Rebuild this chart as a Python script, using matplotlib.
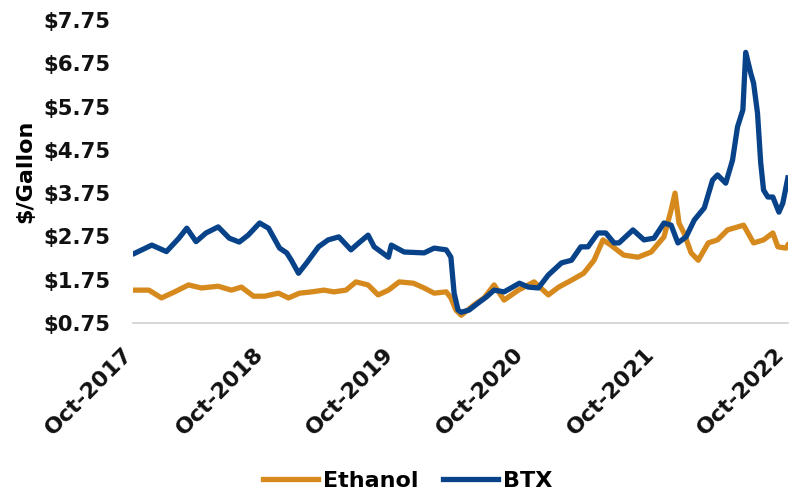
import pandas as pd
import matplotlib
matplotlib.use("Agg")
import matplotlib.pyplot as plt
import matplotlib.dates as mdates
import matplotlib.transforms as mtransforms
from matplotlib.ticker import FixedLocator, FuncFormatter

# Datas e valores ($/galão)
btx_datas = [
    "2017-10-01", "2017-11-18", "2017-12-29", "2018-02-02", "2018-02-24", "2018-03-22",
    "2018-04-19", "2018-05-23", "2018-06-23", "2018-07-21", "2018-08-15", "2018-09-16",
    "2018-10-11", "2018-11-11", "2018-12-01", "2018-12-14", "2019-01-03", "2019-01-26",
    "2019-02-28", "2019-03-27", "2019-04-26", "2019-05-30", "2019-06-21", "2019-07-17",
    "2019-08-03", "2019-09-12", "2019-09-20", "2019-10-26", "2019-12-21", "2020-01-18",
    "2020-02-21", "2020-03-05", "2020-03-14", "2020-03-25", "2020-04-03", "2020-04-25",
    "2020-05-20", "2020-06-12", "2020-07-04", "2020-08-01", "2020-09-13", "2020-10-08",
    "2020-11-05", "2020-12-03", "2021-01-09", "2021-02-06", "2021-03-04", "2021-03-24",
    "2021-04-21", "2021-05-13", "2021-06-05", "2021-06-19", "2021-07-28", "2021-08-28",
    "2021-09-25", "2021-10-23", "2021-11-12", "2021-12-01", "2021-12-24", "2022-01-16",
    "2022-02-13", "2022-03-08", "2022-03-22", "2022-04-14", "2022-05-03", "2022-05-17",
    "2022-06-01", "2022-06-09", "2022-06-23", "2022-07-01", "2022-07-12", "2022-07-21",
    "2022-07-29", "2022-08-10", "2022-08-24", "2022-09-10", "2022-09-21", "2022-10-05",
]
btx_valores = [
    2.36, 2.55, 2.40, 2.71, 2.94, 2.63,
    2.83, 2.97, 2.71, 2.62, 2.78, 3.06,
    2.94, 2.48, 2.37, 2.20, 1.90, 2.14,
    2.51, 2.67, 2.74, 2.44, 2.60, 2.78,
    2.51, 2.27, 2.55, 2.39, 2.37, 2.48,
    2.44, 2.27, 1.44, 1.05, 1.00, 1.05,
    1.21, 1.35, 1.51, 1.47, 1.67, 1.58,
    1.56, 1.86, 2.14, 2.20, 2.51, 2.51,
    2.83, 2.83, 2.60, 2.60, 2.90, 2.67,
    2.71, 3.06, 3.01, 2.60, 2.74, 3.13,
    3.41, 4.05, 4.17, 3.98, 4.51, 5.28,
    5.67, 7.00, 6.52, 6.29, 5.60, 4.45,
    3.82, 3.66, 3.66, 3.31, 3.52, 4.10,
]

etanol_datas = [
    "2017-10-01", "2017-11-10", "2017-12-15", "2018-01-21", "2018-03-01", "2018-04-06",
    "2018-05-23", "2018-06-29", "2018-07-27", "2018-08-30", "2018-09-30", "2018-11-08",
    "2018-12-06", "2019-01-06", "2019-02-09", "2019-03-15", "2019-04-12", "2019-05-16",
    "2019-06-13", "2019-07-17", "2019-08-14", "2019-09-12", "2019-10-12", "2019-11-21",
    "2019-12-21", "2020-01-18", "2020-02-21", "2020-03-05", "2020-03-19", "2020-04-03",
    "2020-05-09", "2020-06-06", "2020-07-04", "2020-08-01", "2020-09-10", "2020-10-24",
    "2020-12-03", "2021-01-01", "2021-02-06", "2021-03-12", "2021-04-10", "2021-05-05",
    "2021-05-27", "2021-07-02", "2021-08-11", "2021-09-17", "2021-10-23", "2021-11-12",
    "2021-11-23", "2021-12-04", "2021-12-18", "2022-01-07", "2022-01-27", "2022-02-24",
    "2022-03-22", "2022-04-19", "2022-06-03", "2022-07-01", "2022-07-29", "2022-08-24",
    "2022-09-07", "2022-09-30", "2022-10-05",
]
etanol_valores = [
    1.51, 1.51, 1.33, 1.47, 1.63, 1.56,
    1.60, 1.51, 1.58, 1.37, 1.37, 1.44,
    1.33, 1.44, 1.47, 1.51, 1.47, 1.51,
    1.70, 1.63, 1.40, 1.51, 1.70, 1.67,
    1.56, 1.44, 1.47, 1.33, 1.05, 0.93,
    1.17, 1.33, 1.63, 1.28, 1.51, 1.70,
    1.40, 1.58, 1.74, 1.90, 2.20, 2.67,
    2.55, 2.32, 2.27, 2.39, 2.74, 3.36,
    3.75, 3.06, 2.83, 2.37, 2.20, 2.60,
    2.67, 2.90, 3.01, 2.60, 2.67, 2.83,
    2.51, 2.48, 2.55,
]

anos_ticks = ["2017-10-01", "2018-10-01", "2019-10-01", "2020-10-01", "2021-10-01", "2022-10-01"]
y_ticks = [0.75, 1.75, 2.75, 3.75, 4.75, 5.75, 6.75, 7.75]

cor_etanol = "#D68A1E"
cor_btx = "#08438A"

plt.rcParams['font.family'] = ['DejaVu Sans']
plt.rcParams['font.weight'] = 'bold'

fig = plt.figure(figsize=(7.91, 4.97), dpi=100)
ax = fig.add_axes([0.168, 0.35, 0.828, 0.61])

ax.plot(pd.to_datetime(etanol_datas), etanol_valores, color=cor_etanol, lw=3.8, label="Ethanol")
ax.plot(pd.to_datetime(btx_datas), btx_valores, color=cor_btx, lw=3.8, label="BTX")

ax.set_ylim(0.75, 7.75)
ax.yaxis.set_major_locator(FixedLocator(y_ticks))
ax.yaxis.set_major_formatter(FuncFormatter(lambda v, p: f"${v:.2f}"))
ax.set_xlim(pd.Timestamp("2017-09-26"), pd.Timestamp("2022-10-05"))
ax.set_xticks(pd.to_datetime(anos_ticks))
ax.xaxis.set_major_formatter(mdates.DateFormatter("%b-%Y"))

for lado in ["top", "right", "left"]:
    ax.spines[lado].set_visible(False)
ax.spines["bottom"].set_color("#D0D0D0")
ax.spines["bottom"].set_linewidth(1.2)
ax.tick_params(length=0, colors="#111111")
ax.tick_params(axis='y', labelsize=15.3, pad=16)
ax.tick_params(axis='x', labelsize=16, pad=20)
plt.setp(ax.get_yticklabels(), fontweight="bold")

# rótulos do eixo x girados 45 graus, um pouco para a esquerda
desloc = mtransforms.ScaledTranslation(-5 / 100, 0, fig.dpi_scale_trans)
for rotulo in ax.get_xticklabels():
    rotulo.set_rotation(45)
    rotulo.set_ha("right")
    rotulo.set_va("center")
    rotulo.set_rotation_mode("anchor")
    rotulo.set_fontweight("bold")
    rotulo.set_transform(rotulo.get_transform() + desloc)

ax.set_ylabel("$/Gallon", fontsize=16, fontweight="bold", labelpad=6)

fig.legend(loc="center", bbox_to_anchor=(0.515, 0.032), ncol=2, frameon=False,
           fontsize=16, handlelength=2.5, handletextpad=0.2, columnspacing=1.1)

fig.savefig("out.png", dpi=100)
